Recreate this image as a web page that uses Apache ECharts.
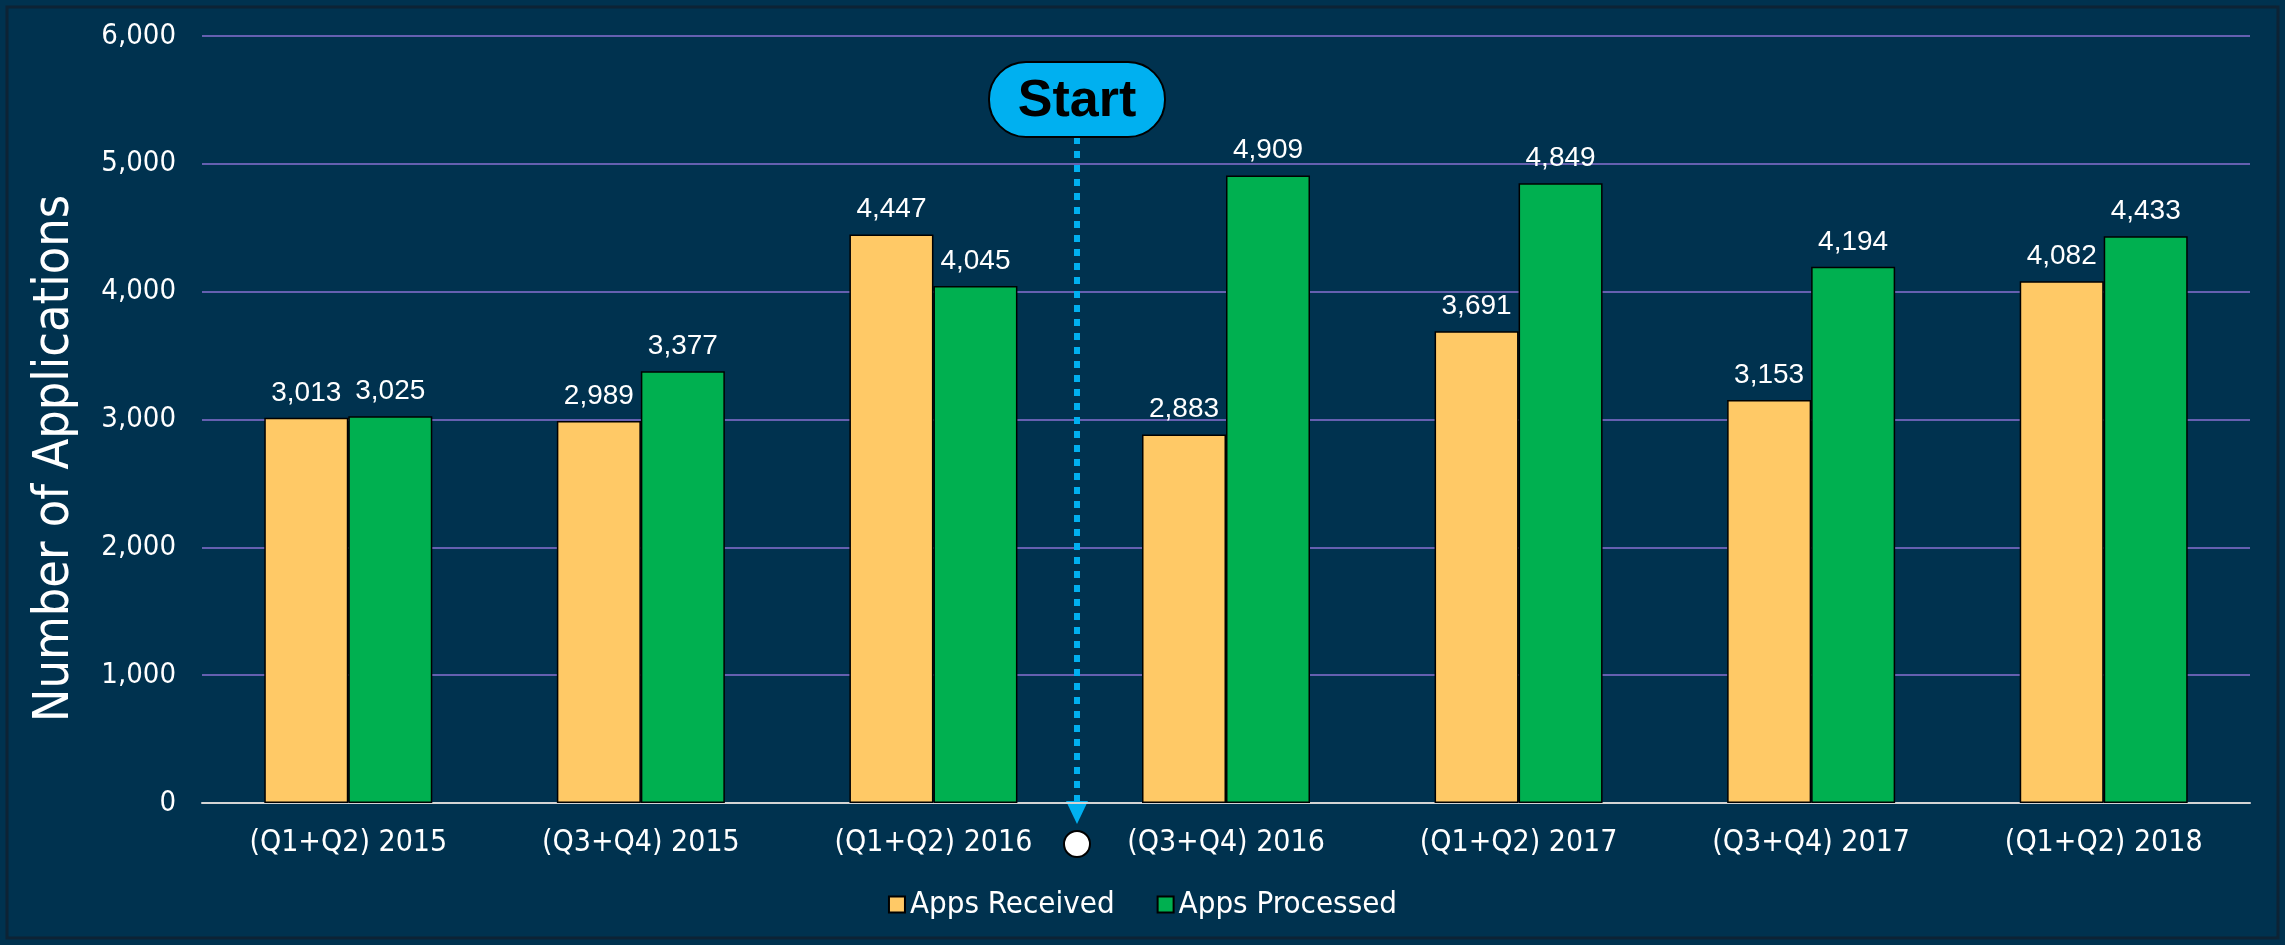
<!DOCTYPE html>
<html>
<head>
<meta charset="utf-8">
<script src="https://cdn.jsdelivr.net/npm/echarts@6/dist/echarts.min.js"></script>
<style>
  html, body { margin: 0; padding: 0; background: #00324f; }
  #main { width: 2285px; height: 945px; }
</style>
</head>
<body>
<div id="main"></div>
<script>
var categories = ['(Q1+Q2) 2015', '(Q3+Q4) 2015', '(Q1+Q2) 2016', '(Q3+Q4) 2016',
                  '(Q1+Q2) 2017', '(Q3+Q4) 2017', '(Q1+Q2) 2018'];
var appsReceived = [3013, 2989, 4447, 2883, 3691, 3153, 4082];
var appsProcessed = [3025, 3377, 4045, 4909, 4849, 4194, 4433];
var yTicks = [0, 1000, 2000, 3000, 4000, 5000, 6000];

var axisFont = '"DejaVu Sans Condensed", "DejaVu Sans", sans-serif';
var myChart = echarts.init(document.getElementById('main'));

function fmt(v) {
    return v.toLocaleString('en-US');
}

var labelStyle = {
    show: true,
    position: 'top',
    distance: 11,
    color: '#ffffff',
    fontFamily: 'Liberation Sans, Arial, sans-serif',
    fontSize: 28,
    formatter: function (p) { return fmt(p.value); }
};

var option = {
    backgroundColor: '#00324f',
    animation: false,
    grid: { left: 202, right: 35, top: 36, bottom: 142 },
    legend: {
        top: 884,
        left: 'center',
        icon: 'rect',
        itemWidth: 16,
        itemHeight: 16,
        itemGap: 42,
        textStyle: { color: '#ffffff', fontSize: 31, fontFamily: axisFont },
        data: ['Apps Received', 'Apps Processed']
    },
    xAxis: {
        type: 'category',
        data: categories,
        axisTick: { show: false },
        axisLine: { lineStyle: { color: '#d4d4d4', width: 2 } },
        axisLabel: { color: '#ffffff', fontSize: 30, fontFamily: axisFont, margin: 25 }
    },
    yAxis: {
        type: 'value',
        min: yTicks[0],
        max: yTicks[yTicks.length - 1],
        interval: 1000,
        name: 'Number of Applications',
        nameLocation: 'middle',
        nameGap: 122,
        nameTextStyle: {
            color: '#ffffff', fontSize: 50, fontFamily: axisFont,
            padding: [0, 78, 0, 0]
        },
        axisLine: { show: false },
        axisTick: { show: false },
        splitLine: { lineStyle: { color: '#6560b0', width: 2 } },
        axisLabel: {
            color: '#ffffff', fontSize: 29, fontFamily: axisFont, margin: 26,
            formatter: function (v) { return fmt(v); }
        }
    },
    series: [
        {
            name: 'Apps Received',
            type: 'bar',
            barWidth: 84,
            barGap: '0%',
            data: appsReceived,
            itemStyle: { color: '#ffc966', borderColor: '#000000', borderWidth: 1.5 },
            label: labelStyle
        },
        {
            name: 'Apps Processed',
            type: 'bar',
            barWidth: 84,
            barGap: '0%',
            data: appsProcessed,
            itemStyle: { color: '#00b050', borderColor: '#000000', borderWidth: 1.5 },
            label: labelStyle
        }
    ]
};
myChart.setOption(option);

// "Start" marker between (Q1+Q2) 2016 and (Q3+Q4) 2016
var xa = myChart.convertToPixel({ xAxisIndex: 0 }, categories[2]);
var xb = myChart.convertToPixel({ xAxisIndex: 0 }, categories[3]);
var xm = Math.round((xa + xb) / 2) - 3;
var y0 = myChart.convertToPixel({ yAxisIndex: 0 }, 0);
var boxTop = 62, boxH = 75, boxW = 176;

myChart.setOption({
    graphic: [
        {
            type: 'rect', silent: true,
            shape: { x: 7, y: 7, width: 2271, height: 931 },
            style: { fill: 'none', stroke: '#0d2335', lineWidth: 3 }
        },
        {
            type: 'line', silent: true,
            shape: { x1: xm, y1: boxTop + boxH, x2: xm, y2: y0 - 2 },
            style: { stroke: '#00b0f0', lineWidth: 6, lineDash: [7, 7] }
        },
        {
            type: 'polygon', silent: true,
            shape: { points: [[xm - 11, y0 - 2], [xm + 11, y0 - 2], [xm, y0 + 21]] },
            style: { fill: '#00b0f0' }
        },
        {
            type: 'circle', silent: true,
            shape: { cx: xm, cy: 844, r: 13 },
            style: { fill: '#ffffff', stroke: '#000000', lineWidth: 2 }
        },
        {
            type: 'rect', silent: true,
            shape: { x: xm - boxW / 2, y: boxTop, width: boxW, height: boxH, r: 37 },
            style: { fill: '#00b0f0', stroke: '#000000', lineWidth: 2 }
        },
        {
            type: 'text', silent: true,
            x: xm, y: boxTop + boxH / 2 + 2,
            style: {
                text: 'Start', fill: '#000000',
                font: 'bold 52px "Liberation Sans", Arial, sans-serif',
                align: 'center', verticalAlign: 'middle'
            }
        }
    ]
});
</script>
</body>
</html>
